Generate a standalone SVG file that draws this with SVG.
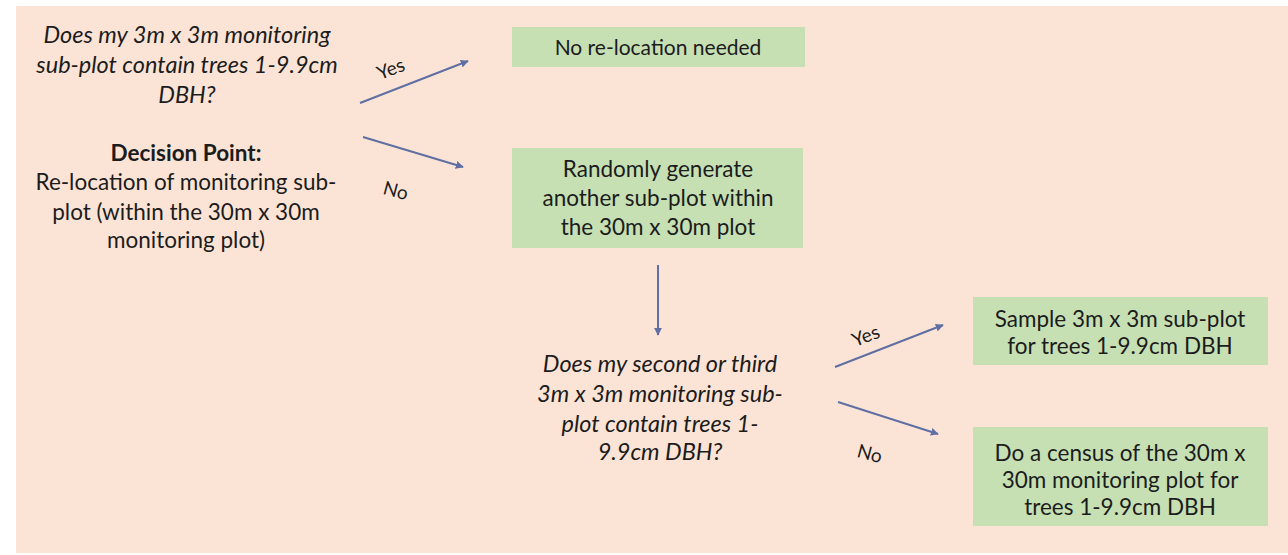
<svg xmlns="http://www.w3.org/2000/svg" width="1288" height="555" viewBox="0 0 1288 555">
<defs>
<marker id="ah" viewBox="0 0 10 10" refX="9" refY="5" markerWidth="4" markerHeight="4" orient="auto" markerUnits="strokeWidth">
<path d="M0,0 L10,5 L0,10 Z" fill="#5F6FA3"/>
</marker>
<style>
text{font-family:Lato,"Open Sans","Liberation Sans",sans-serif;fill:#1c1c1c;font-size:22.5px;text-anchor:middle}
.it{font-style:italic;font-size:23.5px}
.b{font-weight:bold}
.lbl{font-size:19px}
.box{fill:#C6E0B4}
.conn line{stroke:#5F6FA3;stroke-width:2;marker-end:url(#ah)}
</style>
</defs>
<rect x="0" y="0" width="1288" height="555" fill="#ffffff"/>
<rect x="16" y="6" width="1272" height="547" fill="#FBE4D6"/>

<g id="q1">
<text class="it" x="187" y="43">Does my 3m x 3m monitoring</text>
<text class="it" x="187" y="73">sub-plot contain trees 1-9.9cm</text>
<text class="it" x="187" y="103">DBH?</text>
</g>
<g id="decision">
<text class="b" x="186" y="161">Decision Point:</text>
<text x="186" y="190">Re-location of monitoring sub-</text>
<text x="186" y="220">plot (within the 30m x 30m</text>
<text x="186" y="248">monitoring plot)</text>
</g>

<g id="n-norelocation">
<rect class="box" x="512" y="27" width="293" height="40"/>
<text x="658" y="55" style="font-size:21px">No re-location needed</text>
</g>
<g id="n-random">
<rect class="box" x="512" y="148" width="291" height="100"/>
<text x="658" y="177">Randomly generate</text>
<text x="658" y="206">another sub-plot within</text>
<text x="658" y="235">the 30m x 30m plot</text>
</g>
<g id="q2">
<text class="it" x="660" y="372">Does my second or third</text>
<text class="it" x="660" y="402">3m x 3m monitoring sub-</text>
<text class="it" x="660" y="432">plot contain trees 1-</text>
<text class="it" x="660" y="460">9.9cm DBH?</text>
</g>
<g id="n-sample">
<rect class="box" x="973" y="297" width="295" height="68"/>
<text x="1120" y="327">Sample 3m x 3m sub-plot</text>
<text x="1120" y="354">for trees 1-9.9cm DBH</text>
</g>
<g id="n-census">
<rect class="box" x="973" y="427" width="295" height="99"/>
<text x="1120" y="461">Do a census of the 30m x</text>
<text x="1120" y="488">30m monitoring plot for</text>
<text x="1120" y="515">trees 1-9.9cm DBH</text>
</g>

<g class="conn" id="connectors">
<line x1="360" y1="103" x2="468" y2="61"/>
<line x1="363" y1="137" x2="463" y2="167"/>
<line x1="658" y1="265" x2="658" y2="335"/>
<line x1="835" y1="367" x2="943" y2="325"/>
<line x1="838" y1="402" x2="938" y2="434"/>
<text class="lbl" transform="translate(393,75) rotate(-21)">Yes</text>
<text class="lbl" transform="translate(394,197) rotate(15)">No</text>
<text class="lbl" transform="translate(868,342) rotate(-21)">Yes</text>
<text class="lbl" transform="translate(868,460) rotate(15)">No</text>
</g>
</svg>
